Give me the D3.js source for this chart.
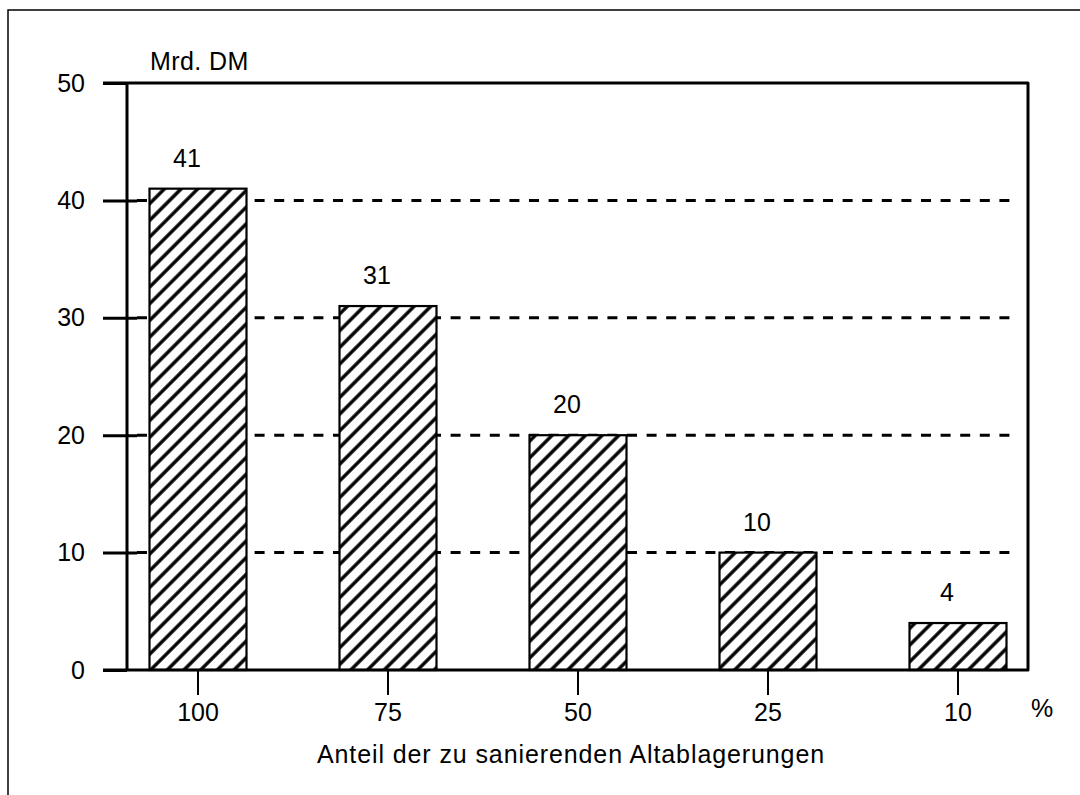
<!DOCTYPE html>
<html>
<head>
<meta charset="utf-8">
<script src="https://cdn.jsdelivr.net/npm/d3@7"></script>
<style>
  body { margin: 0; background: #fff; }
  text { font-family: "Liberation Sans", Arial, Helvetica, sans-serif; fill: #000; }
</style>
</head>
<body>
<div id="chart"></div>
<script>
// data
var categories = ["100", "75", "50", "25", "10"];
var values = [41, 31, 20, 10, 4];
var yTicks = [0, 10, 20, 30, 40, 50];
var gridTicks = [10, 20, 30, 40];

var svgWidth = 1080;
var svgHeight = 795;

var plot = { left: 127, right: 1028, top: 83, bottom: 670 };

var svg = d3.select("#chart")
    .append("svg")
    .attr("width", svgWidth)
    .attr("height", svgHeight);

// hatch pattern for the bars
var defs = svg.append("defs");
var pattern = defs.append("pattern")
    .attr("id", "hatch")
    .attr("patternUnits", "userSpaceOnUse")
    .attr("width", 11.8)
    .attr("height", 11.8)
    .attr("patternTransform", "rotate(45)");
pattern.append("rect")
    .attr("width", 11.8).attr("height", 11.8).attr("fill", "#fff");
pattern.append("line")
    .attr("x1", 2).attr("y1", 0).attr("x2", 2).attr("y2", 11.8)
    .attr("stroke", "#000").attr("stroke-width", 3.4);

// outer frame (only left and top edges visible)
svg.append("path")
    .attr("d", "M8,795 L8,10 L1080,10")
    .attr("fill", "none")
    .attr("stroke", "#000")
    .attr("stroke-width", 1.5);

// scales
var x = d3.scaleBand()
    .domain(categories)
    .range([103, 1053])
    .paddingInner(1 - 97 / 190)
    .paddingOuter((1 - 97 / 190) / 2);

var y = d3.scaleLinear()
    .domain([0, 50])
    .range([plot.bottom, plot.top]);

// dashed grid lines
svg.append("g")
    .selectAll("line")
    .data(gridTicks)
    .enter()
    .append("line")
    .attr("x1", 137)
    .attr("x2", 1019)
    .attr("y1", d => y(d))
    .attr("y2", d => y(d))
    .attr("stroke", "#000")
    .attr("stroke-width", 3)
    .attr("stroke-dasharray", "10,9.6");

// bars
svg.append("g")
    .selectAll("rect")
    .data(values)
    .enter()
    .append("rect")
    .attr("x", (d, i) => x(categories[i]))
    .attr("width", x.bandwidth())
    .attr("y", d => y(d))
    .attr("height", d => y(0) - y(d))
    .attr("fill", "url(#hatch)")
    .attr("stroke", "#000")
    .attr("stroke-width", 2.2);

// value labels
svg.append("g")
    .selectAll("text")
    .data(values)
    .enter()
    .append("text")
    .attr("x", (d, i) => x(categories[i]) + x.bandwidth() / 2 - 11)
    .attr("y", d => y(d) - 22)
    .attr("text-anchor", "middle")
    .style("font-size", "25px")
    .text(d => d);

// y axis
var yAxis = svg.append("g")
    .attr("transform", `translate(${plot.left}, 0)`)
    .call(d3.axisLeft(y).tickValues(yTicks).tickSize(24).tickPadding(18));

yAxis.select(".domain").remove();
yAxis.selectAll(".tick line")
    .attr("x1", d => (d === 0 || d === 50) ? 0 : 10)
    .attr("stroke", "#000")
    .attr("stroke-width", 3);
yAxis.selectAll(".tick text")
    .style("font-size", "25px")
    .style("font-family", "'Liberation Sans', Arial, sans-serif");

// frame of plot area
svg.append("path")
    .attr("d", `M${plot.left},${plot.bottom} L${plot.left},${plot.top} M103,${plot.top} L${plot.right},${plot.top} L${plot.right},${plot.bottom} L103,${plot.bottom}`)
    .attr("fill", "none")
    .attr("stroke", "#000")
    .attr("stroke-width", 3)
    .attr("stroke-linejoin", "round");

// x axis ticks and labels
var xAxis = svg.append("g")
    .attr("transform", `translate(0, ${plot.bottom})`)
    .call(d3.axisBottom(x).tickSize(25).tickPadding(8));

xAxis.select(".domain").remove();
xAxis.selectAll(".tick line")
    .attr("stroke", "#000")
    .attr("stroke-width", 2);
xAxis.selectAll(".tick text")
    .style("font-size", "25px")
    .style("font-family", "'Liberation Sans', Arial, sans-serif");

svg.append("text")
    .attr("x", 1042)
    .attr("y", 717)
    .attr("text-anchor", "middle")
    .style("font-size", "25px")
    .text("%");

// unit label
svg.append("text")
    .attr("x", 150)
    .attr("y", 70)
    .style("font-size", "25px")
    .style("letter-spacing", "0.4px")
    .text("Mrd. DM");

// x axis title
svg.append("text")
    .attr("x", 571)
    .attr("y", 763)
    .attr("text-anchor", "middle")
    .style("font-size", "25px")
    .style("letter-spacing", "0.9px")
    .text("Anteil der zu sanierenden Altablagerungen");
</script>
</body>
</html>
